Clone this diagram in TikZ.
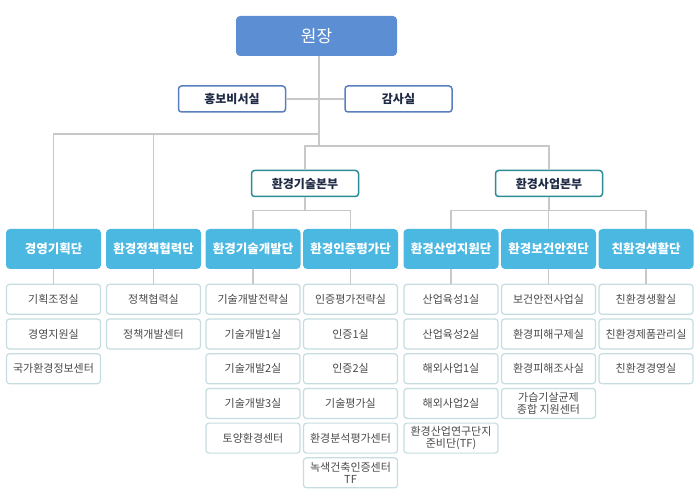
\documentclass[tikz,border=0pt]{standalone}
\usepackage{fontspec}
\setmainfont{Noto Sans CJK KR}
\usetikzlibrary{positioning}
\definecolor{headblue}{HTML}{5B8ED2}
\definecolor{danblue}{HTML}{4BB8E2}
\definecolor{staffline}{HTML}{5A7FBF}
\definecolor{hqteal}{HTML}{2A8C94}
\definecolor{officeline}{HTML}{C5DCE0}
\definecolor{linkgray}{HTML}{C8C8C8}
\definecolor{navytext}{HTML}{1F2A44}
\definecolor{officetext}{HTML}{4A4A4A}
\tikzset{%
  head/.style={rectangle,rounded corners=4pt,fill=headblue,text=white,minimum width=161pt,minimum height=40pt,font=\fontsize{17}{19}\selectfont},
  staff/.style={rectangle,rounded corners=3pt,draw=staffline,line width=1.5pt,fill=white,text=navytext,minimum width=107pt,minimum height=26pt,inner sep=1pt,font=\bfseries\fontsize{12}{14}\selectfont},
  hq/.style={staff,draw=hqteal},
  dan/.style={rectangle,rounded corners=4pt,fill=danblue,text=white,minimum width=95pt,minimum height=40pt,inner sep=1pt,font=\bfseries\fontsize{12.5}{14}\selectfont},
  office/.style={rectangle,rounded corners=3pt,draw=officeline,line width=1.2pt,fill=white,text=officetext,minimum width=94pt,minimum height=30pt,inner sep=1pt,align=center,font=\fontsize{11}{11.5}\selectfont},
  link/.style={draw=linkgray,line width=1.2pt}%
}
\begin{document}
\begin{tikzpicture}[x=1pt,y=-1pt,node distance=3.5pt]
    \useasboundingbox (0,0) rectangle (699,494);
    \node (wonjang) [head] at (316.5,36) {원장};
    \node (hongbo) [staff] at (232,99) {홍보비서실};
    \node (gamsa) [staff] at (398.5,99) {감사실};
    \node (hq_tech) [hq] at (305,183.5) {환경기술본부};
    \node (hq_biz) [hq] at (549,183.5) {환경사업본부};
    \coordinate (join_left) at (319,134);
    \coordinate (join_right) at (319,146);

    \node (dan_a) [dan] at (53.5,249) {경영기획단};
    \node (dan_b) [dan] at (153.5,249) {환경정책협력단};
    \node (dan_c) [dan] at (253,249) {환경기술개발단};
    \node (dan_d) [dan] at (350.5,249) {환경인증평가단};
    \node (dan_e) [dan] at (451,249) {환경산업지원단};
    \node (dan_f) [dan] at (548.5,249) {환경보건안전단};
    \node (dan_g) [dan] at (646,249) {친환경생활단};

    \node (office_a1) [office,below=14.5pt of dan_a] {기획조정실};
    \node (office_a2) [office,below=of office_a1] {경영지원실};
    \node (office_a3) [office,below=of office_a2] {국가환경정보센터};

    \node (office_b1) [office,below=14.5pt of dan_b] {정책협력실};
    \node (office_b2) [office,below=of office_b1] {정책개발센터};

    \node (office_c1) [office,below=14.5pt of dan_c] {기술개발전략실};
    \node (office_c2) [office,below=of office_c1] {기술개발1실};
    \node (office_c3) [office,below=of office_c2] {기술개발2실};
    \node (office_c4) [office,below=of office_c3] {기술개발3실};
    \node (office_c5) [office,below=of office_c4] {토양환경센터};

    \node (office_d1) [office,below=14.5pt of dan_d] {인증평가전략실};
    \node (office_d2) [office,below=of office_d1] {인증1실};
    \node (office_d3) [office,below=of office_d2] {인증2실};
    \node (office_d4) [office,below=of office_d3] {기술평가실};
    \node (office_d5) [office,below=of office_d4] {환경분석평가센터};
    \node (office_d6) [office,below=of office_d5] {녹색건축인증센터\\TF};

    \node (office_e1) [office,below=14.5pt of dan_e] {산업육성1실};
    \node (office_e2) [office,below=of office_e1] {산업육성2실};
    \node (office_e3) [office,below=of office_e2] {해외사업1실};
    \node (office_e4) [office,below=of office_e3] {해외사업2실};
    \node (office_e5) [office,below=of office_e4] {환경산업연구단지\\준비단(TF)};

    \node (office_f1) [office,below=14.5pt of dan_f] {보건안전사업실};
    \node (office_f2) [office,below=of office_f1] {환경피해구제실};
    \node (office_f3) [office,below=of office_f2] {환경피해조사실};
    \node (office_f4) [office,below=of office_f3] {가습기살균제\\종합 지원센터};

    \node (office_g1) [office,below=14.5pt of dan_g] {친환경생활실};
    \node (office_g2) [office,below=of office_g1] {친환경제품관리실};
    \node (office_g3) [office,below=of office_g2] {친환경경영실};

    \path (wonjang.south -| join_left) edge[link] (join_right)
          (hongbo) edge[link] (gamsa);
    \draw[link] (dan_a.north) |- (join_left);
    \draw[link] (dan_b.north) |- (join_left);
    \draw[link] (hq_tech.north) |- (join_right);
    \draw[link] (hq_biz.north) |- (join_right);
    \draw[link] (hq_tech.south) -- +(0,13) -| (dan_c.north);
    \draw[link] (hq_tech.south) -- +(0,13) -| (dan_d.north);
    \draw[link] (hq_biz.south) -- +(0,13) -| (dan_e.north);
    \draw[link] (hq_biz.south) -- +(0,13) -| (dan_f.north);
    \draw[link] (hq_biz.south) -- +(0,13) -| (dan_g.north);

    \path (dan_a) edge[link] (office_a1)
          (dan_b) edge[link] (office_b1)
          (dan_c) edge[link] (office_c1)
          (dan_d) edge[link] (office_d1)
          (dan_e) edge[link] (office_e1)
          (dan_f) edge[link] (office_f1)
          (dan_g) edge[link] (office_g1);

  \end{tikzpicture}
\end{document}
